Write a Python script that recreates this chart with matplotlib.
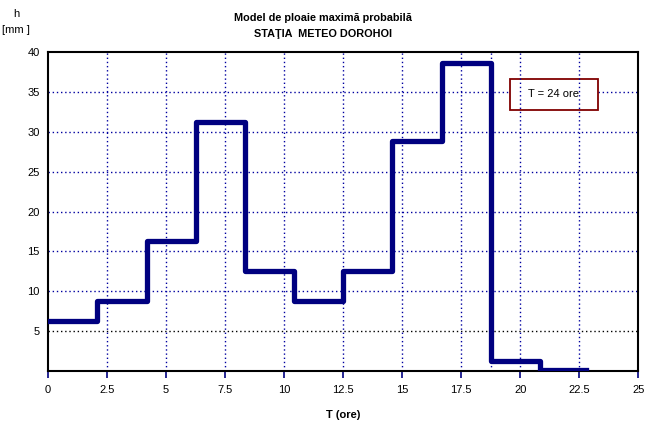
import matplotlib
matplotlib.use("Agg")
import matplotlib.pyplot as plt
from matplotlib.patches import Rectangle

plt.rcParams['font.family'] = ['Liberation Sans', 'DejaVu Sans']

# step edges (ore) and rainfall depth per interval (mm)
t_edges = [0, 2.08, 4.17, 6.25, 8.33, 10.42, 12.5, 14.58, 16.67, 18.75, 20.83, 22.8]
h_values = [6.3, 8.8, 16.3, 31.2, 12.5, 8.8, 12.5, 28.8, 38.7, 1.3, 0.1]

x_ticks = [0, 2.5, 5, 7.5, 10, 12.5, 15, 17.5, 20, 22.5, 25]
x_tick_labels = ['0', '2.5', '5', '7.5', '10', '12.5', '15', '17.5', '20', '22.5', '25']
y_ticks = [5, 10, 15, 20, 25, 30, 35, 40]
extra_grid_x = [18.75]

fig = plt.figure(figsize=(6.5, 4.24), dpi=100)
ax = fig.add_axes([0.074, 0.125, 0.908, 0.752])

# grid: blue dotted, the 5 mm line is black
# vertical lines sit above the annotation box, horizontal ones below it
for x in x_ticks[1:-1] + extra_grid_x:
    ax.axvline(x, color='#0000a0', linestyle=(0, (1, 2)), linewidth=1.0, zorder=2.5)
for y in y_ticks[:-1]:
    col = 'black' if y == 5 else '#0000a0'
    ax.axhline(y, color=col, linestyle=(0, (1, 2)), linewidth=1.0, zorder=1)

ax.plot(t_edges, h_values + [h_values[-1]], drawstyle='steps-post',
        color='#000080', linewidth=3.8, zorder=3)

ax.set_xlim(0, 25)
ax.set_ylim(0, 40)
ax.set_xticks(x_ticks)
ax.set_xticklabels(x_tick_labels)
ax.set_yticks(y_ticks)
ax.tick_params(axis='x', direction='out', length=5, width=1.2, color='#000080',
               labelsize=8, pad=5)
ax.tick_params(axis='y', direction='in', length=0, labelsize=8, pad=6)
for s in ax.spines.values():
    s.set_linewidth(1.5)

# annotation box
ax.add_patch(Rectangle((19.55, 32.8), 3.75, 3.8, facecolor='white',
                       edgecolor='#800000', linewidth=1.3, zorder=2))
ax.text(21.42, 34.7, 'T = 24 ore', ha='center', va='center', fontsize=8, zorder=5)

ax.set_xlabel('T (ore)', fontsize=8, fontweight='bold', labelpad=11)
fig.text(0.497, 0.958, 'Model de ploaie maximă probabilă', ha='center', va='center',
         fontsize=7.8, fontweight='bold')
fig.text(0.497, 0.920, 'STAŢIA  METEO DOROHOI', ha='center', va='center',
         fontsize=7.8, fontweight='bold')
fig.text(0.025, 0.967, 'h', ha='center', va='center', fontsize=8)
fig.text(0.025, 0.929, '[mm ]', ha='center', va='center', fontsize=8)

fig.savefig('out.png', dpi=100)
